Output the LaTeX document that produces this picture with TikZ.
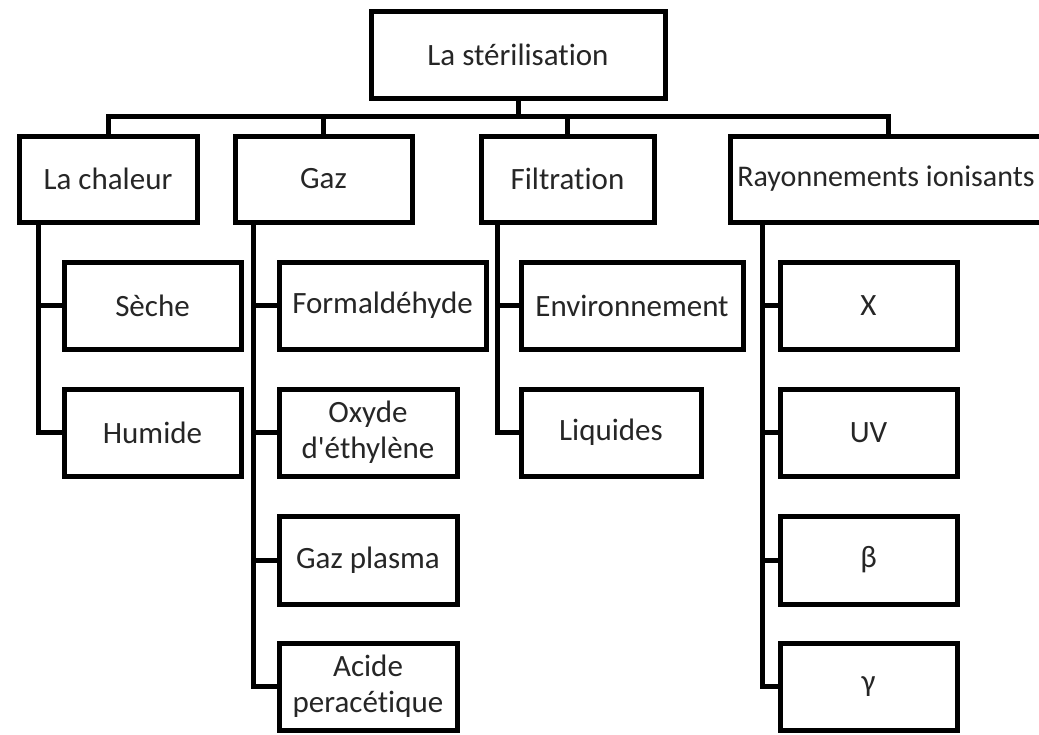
\documentclass[tikz,border=0pt]{standalone}
\usepackage{fontspec}
\newfontfamily\boxfont{Carlito}[Ligatures=NoCommon]
\begin{document}
\begin{tikzpicture}[x=1pt,y=-1pt,
  box/.style={draw=black, line width=5pt, fill=white, rectangle, inner sep=0pt,
    minimum height=87pt, align=center, text=black!85,
    font=\boxfont\fontsize{31}{36}\selectfont},
  conn/.style={draw=black, line width=5pt}]
\useasboundingbox (0,0) rectangle (1039,734);
\fill[white] (0,0) rectangle (1039,734);
% level 0
\node[box, minimum width=294pt] (root) at (518,54.5) {La stérilisation};
% level 1
\node[box, minimum width=178pt, minimum height=86pt] (chaleur) at (108,179) {La chaleur};
\node[box, minimum width=177pt, minimum height=86pt] (gaz) at (323.5,179) {Gaz};
\node[box, minimum width=173pt, minimum height=86pt] (filt) at (567.5,179) {Filtration};
\node[box, minimum width=316pt, minimum height=86pt,
  font=\boxfont\fontsize{30}{36}\selectfont] (rayon) at (888,179) {Rayonnements ionisants\hspace{4pt}};
% level 2
\node[box, minimum width=177pt] (seche) at (152.5,305.5) {Sèche};
\node[box, minimum width=177pt] (humide) at (152.5,432.5) {Humide};
\node[box, minimum width=207pt] (formal) at (382.5,305.5) {Formaldéhyde};
\node[box, minimum width=178pt] (oxyde) at (368,432.5) {Oxyde\\d'éthylène};
\node[box, minimum width=178pt, minimum height=88pt] (plasma) at (368,560) {Gaz plasma};
\node[box, minimum width=178pt] (acide) at (368,686.5) {Acide\\peracétique};
\node[box, minimum width=222pt] (env) at (632,305.5) {Environnement};
\node[box, minimum width=180pt] (liq) at (611,432.5) {Liquides};
\node[box, minimum width=177pt] (xr) at (868.5,305.5) {X};
\node[box, minimum width=177pt] (uv) at (868.5,432.5) {UV};
\node[box, minimum width=177pt, minimum height=88pt] (beta) at (868.5,560) {β};
\node[box, minimum width=177pt] (gamma) at (868.5,686.5) {γ};
% bus
\coordinate (bus) at (0,116);
\draw[conn] (root.south) -- (root.south |- bus);
\draw[conn] (chaleur.north) |- (rayon.north |- bus) -- (rayon.north);
\draw[conn] (gaz.north) -- (gaz.north |- bus);
\draw[conn] (filt.north) -- (filt.north |- bus);
% branches
\coordinate (cv) at ([xshift=-70pt]chaleur.south);
\draw[conn] (cv) |- (seche.west);
\draw[conn] (cv) |- (humide.west);
\coordinate (gv) at ([xshift=-70.5pt]gaz.south);
\draw[conn] (gv) |- (formal.west);
\draw[conn] (gv) |- (oxyde.west);
\draw[conn] (gv) |- (plasma.west);
\draw[conn] (gv) |- (acide.west);
\coordinate (fv) at ([xshift=-70.5pt]filt.south);
\draw[conn] (fv) |- (env.west);
\draw[conn] (fv) |- (liq.west);
\coordinate (rv) at ([xshift=-126pt]rayon.south);
\draw[conn] (rv) |- (xr.west);
\draw[conn] (rv) |- (uv.west);
\draw[conn] (rv) |- (beta.west);
\draw[conn] (rv) |- (gamma.west);
\end{tikzpicture}
\end{document}
